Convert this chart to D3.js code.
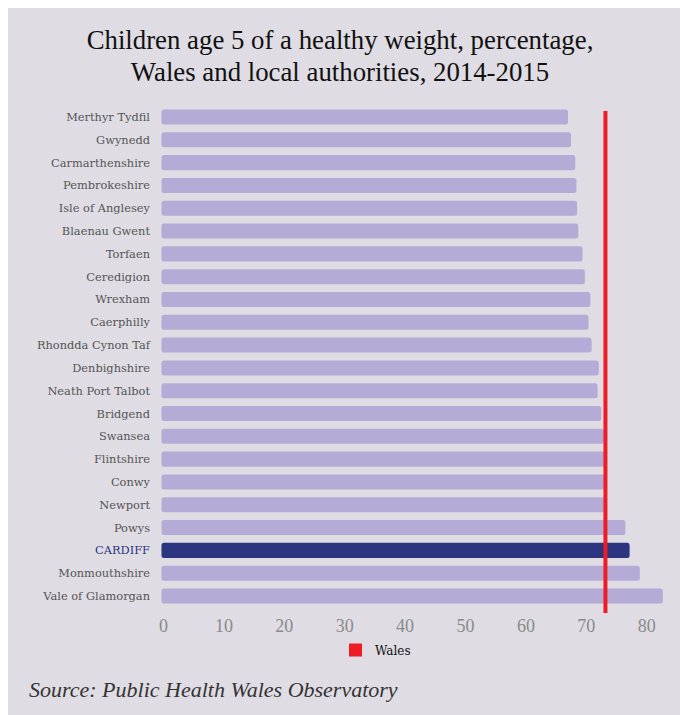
<!DOCTYPE html>
<html><head><meta charset="utf-8">
<script src="https://cdn.jsdelivr.net/npm/d3@7/dist/d3.min.js"></script>
<style>html,body{margin:0;padding:0;background:#fff;}svg{display:block;}</style>
</head><body>
<script>
const categories = ["Merthyr Tydfil","Gwynedd","Carmarthenshire","Pembrokeshire","Isle of Anglesey","Blaenau Gwent","Torfaen","Ceredigion","Wrexham","Caerphilly","Rhondda Cynon Taf","Denbighshire","Neath Port Talbot","Bridgend","Swansea","Flintshire","Conwy","Newport","Powys","CARDIFF","Monmouthshire","Vale of Glamorgan"];
const values = [67.3,67.8,68.5,68.7,68.8,69.0,69.7,70.1,71.0,70.7,71.2,72.4,72.2,72.8,73.3,73.4,73.4,73.5,76.8,77.5,79.2,83.0];
const walesValue = 73.5;
const highlight = "CARDIFF";
const xTicks = [0,10,20,30,40,50,60,70,80];
const titleLines = ["Children age 5 of a healthy weight, percentage,","Wales and local authorities, 2014-2015"];
const legendLabel = "Wales";
const sourceText = "Source: Public Health Wales Observatory";

const W = 680, H = 715;
const svg = d3.select("body").append("svg").attr("width", W).attr("height", H);
svg.append("rect").attr("x",8).attr("y",8).attr("width",W-8).attr("height",H-8).attr("fill","#dfdce3");

const x = d3.scaleLinear().domain([0,80]).range([161.5, 644.7]);
const y = d3.scaleBand().domain(categories).range([105.6, 607.4]).paddingInner(0.34).paddingOuter(0.17);

// title
svg.append("g").selectAll("text").data(titleLines).join("text")
  .attr("x", 340).attr("y", (d,i)=>49 + i*32)
  .attr("text-anchor","middle").attr("font-family","Liberation Serif, serif")
  .attr("font-size", 26.8).attr("fill","#111").text(d=>d);

// bars
svg.append("g").selectAll("rect").data(categories).join("rect")
  .attr("x", x(0)).attr("y", d=>y(d))
  .attr("width", (d,i)=>x(values[i]) - x(0)).attr("height", y.bandwidth())
  .attr("rx", 2.5)
  .attr("fill", d=> d===highlight ? "#2b3580" : "#b4acd6");

// category labels
svg.append("g").selectAll("text").data(categories).join("text")
  .attr("x", 150).attr("y", d=>y(d)+y.bandwidth()/2)
  .attr("dy","0.35em").attr("text-anchor","end")
  .attr("font-family","DejaVu Serif, serif").attr("font-size", 11.4)
  .attr("fill", d=> d===highlight ? "#2b3580" : "#555")
  .text(d=>d);

// Wales line
svg.append("line").attr("x1", x(walesValue)).attr("x2", x(walesValue))
  .attr("y1", 111).attr("y2", 613)
  .attr("stroke","#ee1c25").attr("stroke-width",4);

// x axis
const xAxis = d3.axisBottom(x).tickValues(xTicks).tickSize(0).tickPadding(0);
const ax = svg.append("g").attr("transform","translate(1.5,632)").call(xAxis);
ax.select(".domain").remove();
ax.selectAll("text").attr("font-family","Liberation Serif, serif").attr("font-size",18)
  .attr("fill","#8a8a8a").attr("dy",0);

// legend
svg.append("rect").attr("x",349).attr("y",643.5).attr("width",13).attr("height",13).attr("fill","#ee1c25");
svg.append("text").attr("x",375).attr("y",654.5).attr("font-family","DejaVu Serif, serif")
  .attr("font-size",12).attr("fill","#111").text(legendLabel);

// source
svg.append("text").attr("x",29).attr("y",697).attr("font-family","Liberation Serif, serif")
  .attr("font-style","italic").attr("font-size",22).attr("fill","#333").text(sourceText);
</script>
</body></html>
